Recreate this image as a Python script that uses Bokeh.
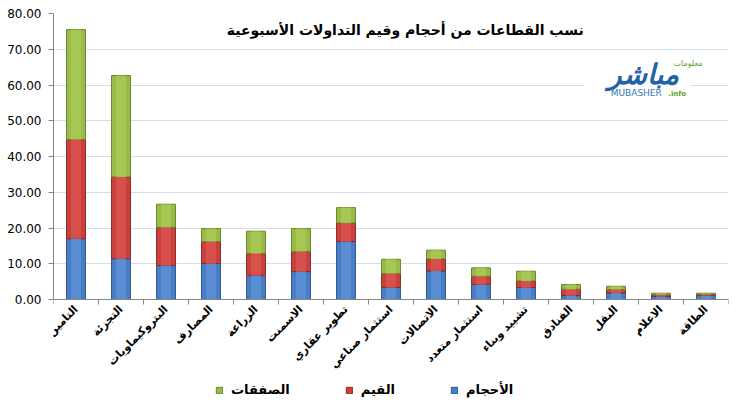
import math
from bokeh.plotting import figure
from bokeh.models import (Range1d, FixedTicker, NumeralTickFormatter, Legend,
                          LegendItem, Label, BoxAnnotation, ColumnDataSource,
                          Span)
from bokeh.core.properties import value
from bokeh.embed import file_html
from bokeh.resources import INLINE

sectors = ["التامين", "التجزئة", "البتروكيماويات", "المصارف", "الزراعة",
           "الاسمنت", "تطوير عقاري", "استثمار صناعي", "الاتصالات",
           "استثمار متعدد", "تشييد وبناء", "الفنادق", "النقل", "الاعلام",
           "الطاقة"]
volumes = [17.0, 11.4, 9.5, 10.05, 6.7, 7.8, 16.2, 3.35, 8.0, 4.2, 3.35,
           1.1, 1.8, 0.85, 1.1]
values = [27.75, 22.9, 10.7, 6.15, 6.15, 5.6, 5.2, 3.9, 3.35, 2.3, 1.85,
          1.8, 1.0, 0.45, 0.4]
deals = [30.75, 28.35, 6.45, 3.65, 6.25, 6.45, 4.3, 4.0, 2.45, 2.35, 2.7,
         1.3, 0.9, 0.45, 0.25]
series_names = ["الأحجام", "القيم", "الصفقات"]
y_ticks = [0, 10, 20, 30, 40, 50, 60, 70, 80]
title_text = "نسب القطاعات من أحجام  وقيم التداولات الأسبوعية"

n = len(sectors)
x = list(range(1, n + 1))
src = ColumnDataSource(dict(x=x, v=volumes, q=values, d=deals))

FONT = "DejaVu Sans"
PX = 80 / 286.0          # data units per pixel on y
FRAME_H = 392

p = figure(output_backend="svg", toolbar_location=None,
           frame_width=675, frame_height=FRAME_H,
           min_border_left=53, min_border_right=14, min_border_top=13,
           min_border_bottom=11, x_axis_location=None,
           x_range=Range1d(0.5, n + 0.5),
           y_range=Range1d(80 - FRAME_H * PX, 80))
p.outline_line_color = None
p.background_fill_color = "white"
p.xgrid.visible = False

p.ygrid.ticker = FixedTicker(ticks=y_ticks)
p.ygrid.grid_line_color = "#d3deeb"
p.ygrid.grid_line_width = 1

fills = ["#4a7ec4", "#c9403c", "#9bbb49"]
lines = ["#2c5a93", "#8c2a27", "#66862a"]
rs = p.vbar_stack(["v", "q", "d"], x="x", width=0.42, source=src,
                  fill_color=fills, line_color=lines, line_width=1)
# lighter inner band for a bevel look
p.vbar_stack(["v", "q", "d"], x="x", width=0.22, source=src,
             fill_color=["#5c92d8", "#dc5450", "#aacb58"], line_color=None,
             fill_alpha=0.8)

# category axis drawn at y = 0
p.add_layout(Span(location=0, dimension="width", line_color="#868686",
                  line_width=1))
bounds = [i + 0.5 for i in range(n + 1)]
p.segment(x0=bounds, x1=bounds, y0=[0] * len(bounds),
          y1=[-5 * PX] * len(bounds), line_color="#868686", line_width=1)
p.text(x=x, y=[-8 * PX] * n, text=sectors, angle=math.pi / 4,
       text_align="right", text_baseline="middle", text_font=value(FONT),
       text_font_style="bold", text_font_size="11px", text_color="black")

p.yaxis.ticker = FixedTicker(ticks=y_ticks)
p.yaxis.bounds = (0, 80)
p.yaxis.formatter = NumeralTickFormatter(format="0.00")
p.yaxis.minor_tick_line_color = None
p.yaxis.major_tick_out = 5
p.yaxis.major_tick_in = 0
p.yaxis.major_tick_line_color = "#868686"
p.yaxis.axis_line_color = "#868686"
p.yaxis.major_label_text_font = FONT
p.yaxis.major_label_text_font_size = "12px"
p.yaxis.major_label_text_color = "black"
p.yaxis.major_label_standoff = 7

# title inside plot area
p.add_layout(Label(x=8.37, y=75.3, text=title_text, text_align="center",
                   text_baseline="middle", text_font=FONT,
                   text_font_style="bold", text_font_size="14px",
                   text_color="black"))

# logo
p.add_layout(BoxAnnotation(left=12.3, right=14.65, bottom=58.5, top=61.5,
                           fill_color="white", fill_alpha=1, line_color=None))
p.add_layout(Label(x=13.61, y=63.0, text="مباشر", text_align="center",
                   text_baseline="middle", text_font=FONT,
                   text_font_style="bold italic", text_font_size="28px",
                   text_color="#1f64a8"))
p.add_layout(Label(x=14.6, y=65.9, text="معلومات", text_align="center",
                   text_baseline="middle", text_font=FONT,
                   text_font_size="8px", text_color="#5aa02c"))
p.add_layout(Label(x=13.45, y=57.8, text="MUBASHER", text_align="center",
                   text_baseline="middle", text_font=FONT,
                   text_font_size="9px", text_color="#2f78b8"))
p.add_layout(Label(x=14.36, y=57.6, text=".info", text_align="center",
                   text_baseline="middle", text_font=FONT,
                   text_font_style="bold", text_font_size="7px",
                   text_color="#5aa02c"))

legend = Legend(items=[LegendItem(label=series_names[2], renderers=[rs[2]]),
                       LegendItem(label=series_names[1], renderers=[rs[1]]),
                       LegendItem(label=series_names[0], renderers=[rs[0]])],
                orientation="horizontal", location=(162, 8))
legend.spacing = 55
legend.glyph_width = 8
legend.glyph_height = 8
legend.label_standoff = 8
legend.padding = 0
legend.margin = 0
legend.border_line_color = None
legend.background_fill_alpha = 0
legend.label_text_font = FONT
legend.label_text_font_style = "bold"
legend.label_text_font_size = "13px"
legend.label_text_color = "black"
p.add_layout(legend, "center")

open("out.html", "w").write(file_html(p, INLINE))
